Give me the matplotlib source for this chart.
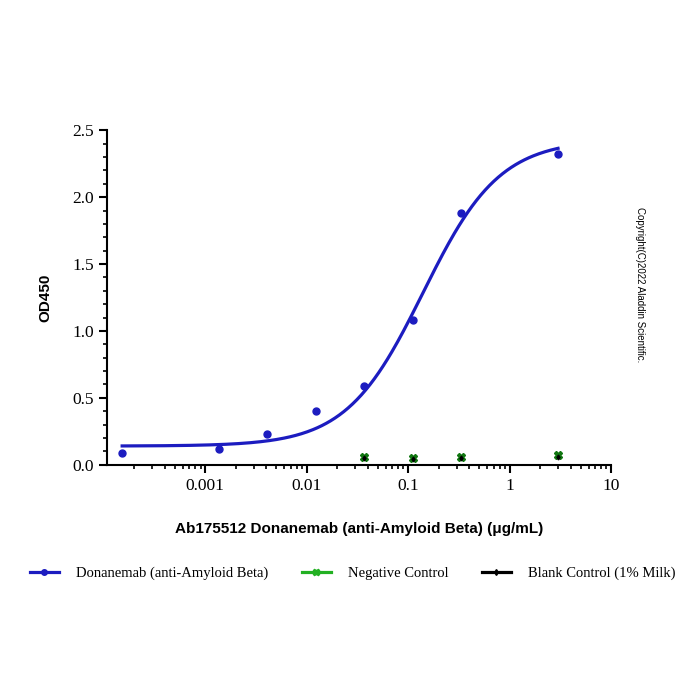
import matplotlib.pyplot as plt
import numpy as np
from matplotlib.lines import Line2D
from matplotlib.ticker import FixedLocator, LogLocator, NullFormatter, MultipleLocator

plt.rcParams['font.family'] = ['Liberation Serif', 'DejaVu Serif']

# concentrations (ug/mL) and OD450 readings
conc = [0.000152, 0.00137, 0.0041, 0.0123, 0.037, 0.111, 0.333, 3.0]
od_dona = [0.085, 0.12, 0.23, 0.40, 0.59, 1.08, 1.88, 2.32]

conc_ctrl = [0.037, 0.111, 0.333, 3.0]
od_neg = [0.055, 0.05, 0.055, 0.07]
od_blank = [0.05, 0.045, 0.05, 0.055]

# 4-parameter logistic fit of the Donanemab series
fit_bottom = 0.14
fit_top = 2.43
fit_ec50 = 0.14
fit_hill = 1.15

blue = '#1c1cc0'
green = '#22b022'

fig = plt.figure(figsize=(7, 7), dpi=100)
ax = fig.add_axes([0.153, 0.336, 0.72, 0.478])

xs = np.logspace(np.log10(conc[0]), np.log10(conc[-1]), 300)
ys = fit_bottom + (fit_top - fit_bottom) / (1 + (fit_ec50 / xs) ** fit_hill)
ax.plot(xs, ys, color=blue, lw=2.3, zorder=3)
ax.plot(conc, od_dona, 'o', color=blue, ms=5, zorder=4)
ax.plot(conc_ctrl, od_neg, 'X', color='#117711', ms=6, zorder=5)
ax.plot(conc_ctrl, od_blank, 'd', color='black', ms=2.5, zorder=6)

ax.set_xscale('log')
ax.set_xlim(1.08e-4, 10)
ax.set_ylim(0, 2.5)
ax.xaxis.set_major_locator(FixedLocator([0.001, 0.01, 0.1, 1, 10]))
ax.set_xticklabels(['0.001', '0.01', '0.1', '1', '10'])
ax.xaxis.set_minor_locator(LogLocator(base=10, subs=np.arange(2, 10)))
ax.xaxis.set_minor_formatter(NullFormatter())
ax.yaxis.set_major_locator(MultipleLocator(0.5))
ax.yaxis.set_minor_locator(MultipleLocator(0.1))
ax.yaxis.set_major_formatter(plt.FuncFormatter(lambda v, p: '%.1f' % v))

for s in ['top', 'right']:
    ax.spines[s].set_visible(False)
for s in ['left', 'bottom']:
    ax.spines[s].set_linewidth(1.5)
ax.tick_params(which='major', length=6, width=1.5, labelsize=12.5)
ax.tick_params(which='minor', length=3, width=1.2)

ax.set_xlabel('Ab175512 Donanemab (anti-Amyloid Beta) (μg/mL)', family=['Liberation Sans', 'DejaVu Sans'],
              fontweight='bold', fontsize=11, labelpad=20)
ax.set_ylabel('OD450', family=['Liberation Sans', 'DejaVu Sans'], fontweight='bold', fontsize=11, labelpad=14)

fig.text(0.914, 0.593, 'Copyright(C)2022 Aladdin Scientific.', rotation=-90, fontsize=7,
         family=['Liberation Sans', 'DejaVu Sans'], ha='center', va='center')

handles = [Line2D([], [], color=blue, lw=2.3, marker='o', ms=4),
           Line2D([], [], color=green, lw=2.3, marker='X', ms=5),
           Line2D([], [], color='black', lw=2.3, marker='d', ms=3)]
labels = ['Donanemab (anti-Amyloid Beta)', 'Negative Control', 'Blank Control (1% Milk)']
fig.legend(handles, labels, loc='center', bbox_to_anchor=(0.504, 0.181), ncol=3, frameon=False,
           fontsize=10.5, handlelength=2.0, columnspacing=2.25, handletextpad=1.2, borderpad=0)

fig.savefig('out.png', dpi=100)
